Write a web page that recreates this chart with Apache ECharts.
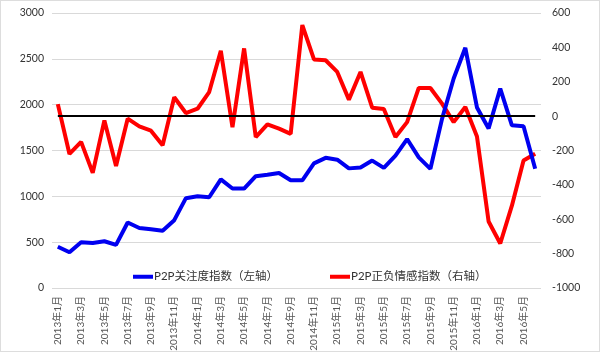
<!DOCTYPE html>
<html>
<head>
<meta charset="utf-8">
<script src="https://cdn.jsdelivr.net/npm/echarts@6/dist/echarts.min.js"></script>
<style>
  html, body { margin: 0; padding: 0; background: #fff; }
  #chart { width: 598px; height: 350px; border: 1px solid #ddd; }
</style>
</head>
<body>
<div id="chart"></div>
<script>
// months 2013年1月 .. 2016年6月
var months = [];
for (var y = 2013; y <= 2016; y++) {
    for (var m = 1; m <= 12; m++) {
        if (y === 2016 && m > 6) break;
        months.push(y + '年' + m + '月');
    }
}

// P2P关注度指数（左轴）
var attention = [450, 390, 500, 490, 510, 470, 715, 655, 640, 625, 740, 980,
    1000, 990, 1185, 1085, 1085, 1220, 1235, 1255, 1175, 1175, 1360, 1420,
    1400, 1305, 1315, 1390, 1310, 1445, 1625, 1425, 1300, 1845, 2285, 2620,
    1970, 1740, 2175, 1775, 1765, 1300];

// P2P正负情感指数（右轴）
var sentiment = [70, -220, -150, -330, -25, -290, -15, -60, -85, -170, 110, 18,
    43, 140, 380, -65, 394, -122, -48, -73, -103, 530, 330, 325,
    257, 96, 257, 49, 41, -122, -35, 164, 164, 73, -35, 53,
    -118, -613, -741, -521, -258, -219];

var leftTicks = { min: 0, max: 3000, interval: 500 };
var rightTicks = { min: -1000, max: 600, interval: 200 };

var font = 'Lato, "Noto Sans CJK SC", sans-serif';
var plain = function (v) { return String(v); };
var myChart = echarts.init(document.getElementById('chart'));
var option = {
    animation: false,
    textStyle: { fontFamily: font },
    grid: { left: 51, right: 58, top: 12, bottom: 63, outerBoundsMode: 'none', containLabel: false },
    legend: [
        {
            data: ['P2P关注度指数（左轴）'],
            left: 127, top: 265,
            icon: 'rect', itemWidth: 20, itemHeight: 4, itemGap: 2,
            textStyle: { fontSize: 11.5, color: '#333', fontFamily: font, padding: [0, 0, 0, -4] }
        },
        {
            data: ['P2P正负情感指数（右轴）'],
            left: 324, top: 265,
            icon: 'rect', itemWidth: 20, itemHeight: 4, itemGap: 2,
            textStyle: { fontSize: 11.5, color: '#333', fontFamily: font, padding: [0, 0, 0, -4] }
        }
    ],
    xAxis: {
        type: 'category',
        data: months,
        boundaryGap: true,
        axisLine: { show: false },
        axisTick: { show: false },
        axisLabel: {
            interval: 1,
            rotate: 90,
            fontSize: 10,
            color: '#555',
            margin: 8
        }
    },
    yAxis: [
        {
            type: 'value',
            min: leftTicks.min, max: leftTicks.max, interval: leftTicks.interval,
            axisLine: { show: false },
            axisTick: { show: false },
            axisLabel: { fontSize: 10.5, color: '#333', margin: 8, formatter: plain },
            splitLine: { lineStyle: { color: '#d9d9d9', width: 1 } }
        },
        {
            type: 'value',
            min: rightTicks.min, max: rightTicks.max, interval: rightTicks.interval,
            axisLine: { show: false },
            axisTick: { show: false },
            axisLabel: { fontSize: 10.5, color: '#333', margin: 11, formatter: plain },
            splitLine: { show: false }
        }
    ],
    series: [
        {
            name: 'P2P关注度指数（左轴）',
            type: 'line',
            yAxisIndex: 0,
            data: attention,
            symbol: 'none',
            color: '#0000f0',
            lineStyle: { width: 4, color: '#0000f0' },
            z: 3
        },
        {
            name: 'P2P正负情感指数（右轴）',
            type: 'line',
            yAxisIndex: 1,
            data: sentiment,
            symbol: 'none',
            color: '#ff0000',
            lineStyle: { width: 4, color: '#ff0000' },
            z: 2,
            markLine: {
                silent: true,
                symbol: 'none',
                label: { show: false },
                lineStyle: { color: '#000', width: 2, type: 'solid' },
                data: [[{ coord: [0, 0] }, { coord: [months.length - 1, 0] }]]
            }
        }
    ]
};
myChart.setOption(option);
</script>
</body>
</html>
